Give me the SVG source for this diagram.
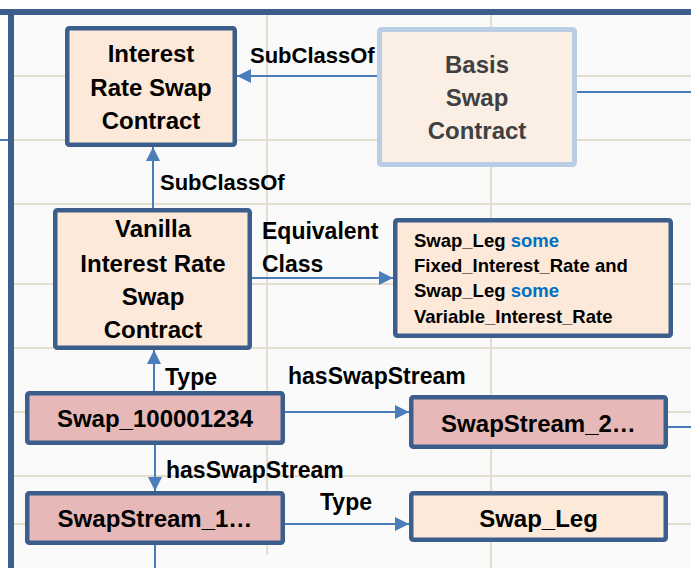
<svg xmlns="http://www.w3.org/2000/svg" width="691" height="568" viewBox="0 0 691 568">
  <style>
    .grid { stroke: #e3ddcd; stroke-width: 2; fill: none; }
    .frame { fill: #3b5e8c; }
    .cls rect { fill: #fde9d9; stroke: #3b5e8c; stroke-width: 4.5; }
    .ind rect { fill: #e6b8b7; stroke: #3b5e8c; stroke-width: 4.5; }
    .faded rect { fill: #fbeee4; stroke: #b9cde5; stroke-width: 5; }
    .node text { font-family: "Liberation Sans", Arial, sans-serif; font-weight: bold; font-size: 24px; fill: #000; text-anchor: middle; }
    .faded text { fill: #404040; }
    .expr text { font-size: 18.5px; text-anchor: start; }
    .kw { fill: #0070c0; }
    .conn line { stroke: #4a7ebb; stroke-width: 2; fill: none; }
    .conn .arrow { marker-end: url(#head); }
    .lbl { font-family: "Liberation Sans", Arial, sans-serif; font-weight: bold; font-size: 23px; fill: #000; }
    .lbl.sub { font-size: 22px; }
  </style>
  <defs>
    <marker id="head" markerUnits="userSpaceOnUse" markerWidth="14" markerHeight="14" refX="14" refY="7" orient="auto">
      <path d="M0,0 L14,7 L0,14 Z" fill="#4a7ebb"/>
    </marker>
  </defs>

  <!-- sheet background -->
  <rect x="0" y="0" width="691" height="568" fill="#ffffff"/>
  <rect x="8" y="9" width="683" height="559" fill="#fafafa"/>

  <!-- cell grid -->
  <g id="grid" class="grid">
    <line x1="14" y1="76" x2="691" y2="76"/>
    <line x1="14" y1="140" x2="691" y2="140"/>
    <line x1="14" y1="204" x2="691" y2="204"/>
    <line x1="14" y1="284" x2="691" y2="284"/>
    <line x1="14" y1="348" x2="691" y2="348"/>
    <line x1="14" y1="412" x2="691" y2="412"/>
    <line x1="14" y1="476" x2="691" y2="476"/>
    <line x1="14" y1="524" x2="691" y2="524"/>
    <line x1="267" y1="15" x2="267" y2="555"/>
    <line x1="491" y1="15" x2="491" y2="568"/>
  </g>

  <!-- frame -->
  <rect class="frame" x="0" y="9" width="691" height="6"/>
  <rect class="frame" x="8" y="9" width="6" height="559"/>

  <!-- connectors -->
  <g id="connectors" class="conn">
    <line x1="0" y1="140" x2="8" y2="140"/>
    <line class="arrow" x1="377" y1="76" x2="237" y2="76"/>
    <line x1="577" y1="92" x2="691" y2="92"/>
    <line class="arrow" x1="153" y1="208" x2="153" y2="147"/>
    <line class="arrow" x1="252" y1="278" x2="393" y2="278"/>
    <line class="arrow" x1="154" y1="391" x2="154" y2="350"/>
    <line class="arrow" x1="285" y1="412" x2="409" y2="412"/>
    <line x1="668" y1="427" x2="691" y2="427"/>
    <line class="arrow" x1="155" y1="445" x2="155" y2="491"/>
    <line class="arrow" x1="285" y1="524" x2="409" y2="524"/>
    <line x1="155" y1="545" x2="155" y2="568"/>
  </g>

  <!-- connector labels -->
  <g id="labels">
    <text class="lbl sub" x="250" y="63">SubClassOf</text>
    <text class="lbl sub" x="160" y="190">SubClassOf</text>
    <text class="lbl" x="262" y="239">Equivalent</text>
    <text class="lbl" x="262" y="272">Class</text>
    <text class="lbl" x="165" y="385">Type</text>
    <text class="lbl" x="288" y="384">hasSwapStream</text>
    <text class="lbl" x="166" y="478">hasSwapStream</text>
    <text class="lbl" x="320" y="510">Type</text>
  </g>

  <!-- nodes -->
  <g id="interest-rate-swap-contract" class="node cls">
    <rect x="67.25" y="28.25" width="167.5" height="116.5" rx="2"/>
    <text x="151" y="62">Interest</text>
    <text x="151" y="96">Rate Swap</text>
    <text x="151" y="129">Contract</text>
  </g>

  <g id="basis-swap-contract" class="node faded">
    <rect x="379.5" y="29.5" width="195" height="135" rx="2"/>
    <text x="477" y="73">Basis</text>
    <text x="477" y="106">Swap</text>
    <text x="477" y="139">Contract</text>
  </g>

  <g id="vanilla-interest-rate-swap-contract" class="node cls">
    <rect x="55.25" y="210.25" width="194.5" height="137.5" rx="2"/>
    <text x="153" y="237">Vanilla</text>
    <text x="153" y="272">Interest Rate</text>
    <text x="153" y="305">Swap</text>
    <text x="153" y="338">Contract</text>
  </g>

  <g id="equivalent-class-expression" class="node cls expr">
    <rect x="395.25" y="220.25" width="275.5" height="115.5" rx="2"/>
    <text x="414" y="247">Swap_Leg <tspan class="kw">some</tspan></text>
    <text x="414" y="272">Fixed_Interest_Rate and</text>
    <text x="414" y="297">Swap_Leg <tspan class="kw">some</tspan></text>
    <text x="414" y="323">Variable_Interest_Rate</text>
  </g>

  <g id="swap-100001234" class="node ind">
    <rect x="27.25" y="393.25" width="255.5" height="49.5" rx="2"/>
    <text x="155" y="427">Swap_100001234</text>
  </g>

  <g id="swapstream-2" class="node ind">
    <rect x="411.25" y="397.25" width="254.5" height="49.5" rx="2"/>
    <text x="538.5" y="432">SwapStream_2…</text>
  </g>

  <g id="swapstream-1" class="node ind">
    <rect x="27.25" y="493.25" width="255.5" height="49.5" rx="2"/>
    <text x="155" y="527">SwapStream_1…</text>
  </g>

  <g id="swap-leg" class="node cls">
    <rect x="411.25" y="493.25" width="254.5" height="46.5" rx="2"/>
    <text x="538.5" y="527">Swap_Leg</text>
  </g>
</svg>
